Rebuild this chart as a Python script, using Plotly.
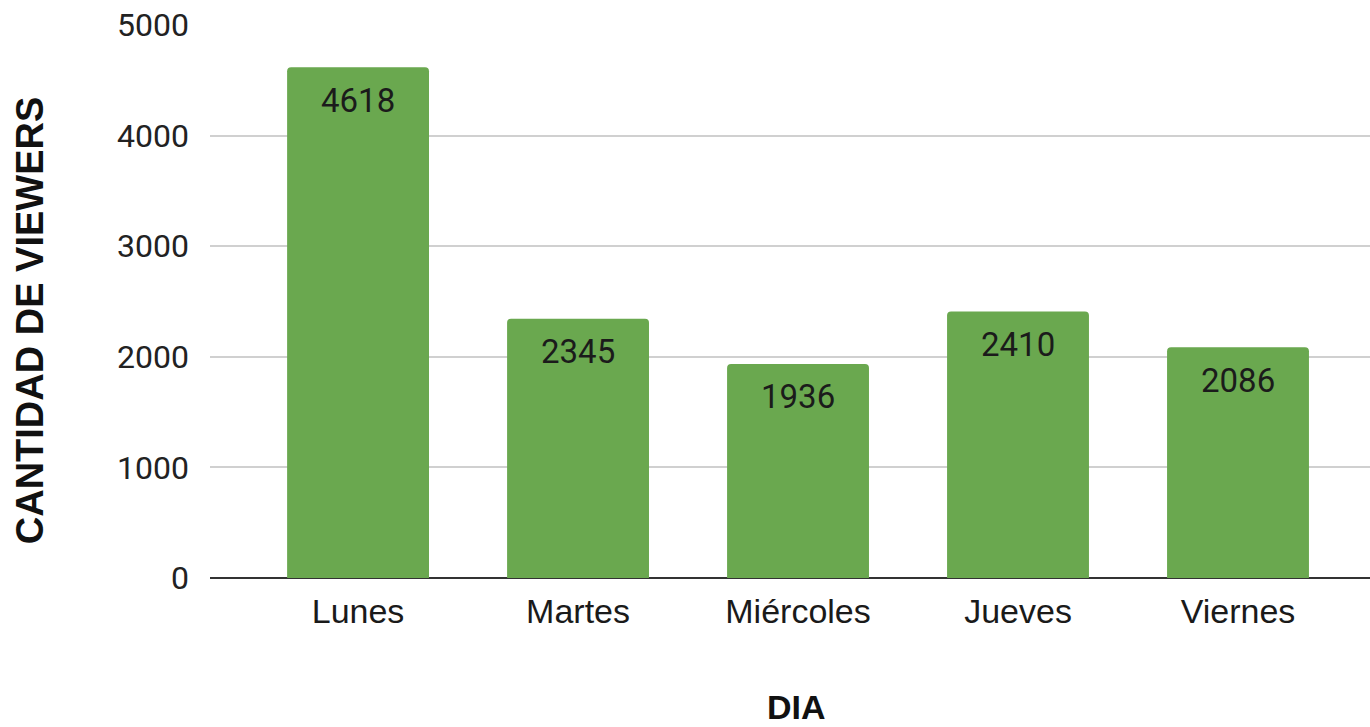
import plotly.graph_objects as go

dias = ["Lunes", "Martes", "Miércoles", "Jueves", "Viernes"]
viewers = [4618, 2345, 1936, 2410, 2086]
y_ticks = [0, 1000, 2000, 3000, 4000, 5000]

fig = go.Figure()
fig.add_trace(go.Bar(
    x=dias, y=viewers,
    marker=dict(color="#6aa84f", cornerradius=4, line=dict(width=0)),
    width=0.645,
    hoverinfo="x+y",
))

# value labels placed inside the top of each bar
annotations = [
    dict(x=d, y=v, xref="x", yref="y", text=str(v), showarrow=False,
         yanchor="middle", yshift=-33,
         font=dict(family="Roboto", size=33, color="#1b1b1b"))
    for d, v in zip(dias, viewers)
]

annotations += [
    dict(text="<b>CANTIDAD DE VIEWERS</b>", textangle=-90,
         xref="paper", yref="paper", x=-0.155, y=0.4665,
         xanchor="center", yanchor="middle", showarrow=False,
         font=dict(family="Liberation Sans, Arial", size=38, color="#111111")),
    dict(text="<b>DIA</b>",
         xref="paper", yref="paper", x=0.506, y=-0.234,
         xanchor="center", yanchor="middle", showarrow=False,
         font=dict(family="Liberation Sans, Arial", size=34, color="#111111")),
]

fig.update_layout(
    width=1370, height=727,
    margin=dict(l=210, r=0, t=25, b=149),
    paper_bgcolor="white", plot_bgcolor="white",
    showlegend=False,
    font=dict(family="Roboto", size=32, color="#222222"),
    xaxis=dict(
        range=[-0.673, 4.6],
        showgrid=False, showline=False, zeroline=False,
        ticks="", ticklabelstandoff=10,
        tickfont=dict(family="Liberation Sans, Arial", size=34, color="#1a1a1a"),
    ),
    yaxis=dict(
        range=[0, 5000], tickvals=y_ticks,
        showgrid=True, gridcolor="#d0d0d0", gridwidth=2,
        zeroline=True, zerolinecolor="#333333", zerolinewidth=2,
        showline=False, ticks="", ticklabelstandoff=20,
        tickfont=dict(family="Roboto", size=32, color="#222222"),
    ),
    annotations=annotations,
)

fig.write_html("out.html", config={"displayModeBar": False},
               post_script="document.body.style.margin='0';")
